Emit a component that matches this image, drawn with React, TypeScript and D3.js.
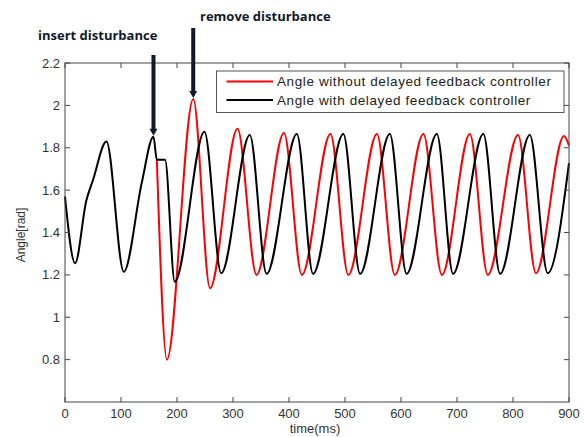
import React from "react";
import * as d3 from "d3";

// black: angle with delayed feedback controller [time(ms), angle(rad)]
const withCtrlT = [0, 18, 38, 50, 74, 105, 137, 158, 164, 178.6, 196, 249, 279, 330, 360, 414, 443, 497, 527, 580, 610, 664, 693, 747, 777, 830, 862, 900];
const withCtrlV = [1.57, 1.255, 1.55, 1.648, 1.83, 1.215, 1.634, 1.852, 1.743, 1.743, 1.168, 1.876, 1.208, 1.86, 1.205, 1.865, 1.205, 1.865, 1.205, 1.865, 1.205, 1.865, 1.205, 1.865, 1.205, 1.86, 1.208, 1.727];

// red: angle without delayed feedback controller (branches off at the disturbance)
const noCtrlT = [164, 182, 229, 259, 308, 342, 391, 423, 474, 506, 557, 589, 640, 673, 723, 755, 809, 841, 891, 900];
const noCtrlV = [1.743, 0.8, 2.03, 1.137, 1.89, 1.2, 1.87, 1.2, 1.865, 1.2, 1.865, 1.2, 1.865, 1.2, 1.865, 1.2, 1.86, 1.208, 1.855, 1.81];

const xTicks = [0, 100, 200, 300, 400, 500, 600, 700, 800, 900];
const yTicks = [0.8, 1, 1.2, 1.4, 1.6, 1.8, 2, 2.2];

const legendLabels = ["Angle without delayed feedback controller", "Angle with delayed feedback controller"];
const insertT = 158;
const removeT = 229;

const W = 584, H = 437;
const m = { left: 65, right: 15, top: 63, bottom: 35 };

export default function App() {
  const x = d3.scaleLinear().domain([0, 900]).range([m.left, W - m.right]);
  const y = d3.scaleLinear().domain([0.6, 2.2]).range([H - m.bottom, m.top]);

  const line = d3.line<[number, number]>()
    .x(d => x(d[0]))
    .y(d => y(d[1]))
    .curve(d3.curveMonotoneX);

  const black = withCtrlT.map((t, i) => [t, withCtrlV[i]] as [number, number]);
  const red = noCtrlT.map((t, i) => [t, noCtrlV[i]] as [number, number]);

  const axisColor = "#444";
  const font = "'Liberation Sans', Arial, sans-serif";
  const x0 = x(0), x1 = x(900), y0 = y(0.6), y1 = y(2.2);

  const arrow = (t: number, v: number, top: number) => {
    const ax = x(t);
    const tip = y(v) - 1;
    return (
      <g>
        <line x1={ax} x2={ax} y1={top} y2={tip - 6} stroke="#0f1a2b" strokeWidth={4} />
        <path d={`M${ax - 4},${tip - 7} L${ax + 4},${tip - 7} L${ax},${tip} Z`} fill="#0f1a2b" />
      </g>
    );
  };

  return (
    <svg width={W} height={H} style={{ position: "absolute", left: 0, top: 0, background: "#fff" }}>
      <rect x={0} y={0} width={W} height={H} fill="#fff" />
      <path d={line(red) || ""} fill="none" stroke="#ff0000" strokeWidth={2} />
      <path d={line(black) || ""} fill="none" stroke="#000" strokeWidth={2} />

      {/* axes box */}
      <rect x={x0} y={y1} width={x1 - x0} height={y0 - y1} fill="none" stroke={axisColor} strokeWidth={1} />
      {xTicks.map(t => (
        <g key={"x" + t}>
          <line x1={x(t)} x2={x(t)} y1={y0} y2={y0 - 5} stroke={axisColor} />
          <line x1={x(t)} x2={x(t)} y1={y1} y2={y1 + 5} stroke={axisColor} />
          <text x={x(t)} y={y0 + 16} textAnchor="middle" fontFamily={font} fontSize={13} fill="#333">{t}</text>
        </g>
      ))}
      {yTicks.map(t => (
        <g key={"y" + t}>
          <line x1={x0} x2={x0 + 5} y1={y(t)} y2={y(t)} stroke={axisColor} />
          <line x1={x1} x2={x1 - 5} y1={y(t)} y2={y(t)} stroke={axisColor} />
          <text x={x0 - 5} y={y(t) + 4.5} textAnchor="end" fontFamily={font} fontSize={13} fill="#333">{t}</text>
        </g>
      ))}

      <text x={315} y={433} textAnchor="middle" fontFamily={font} fontSize={13} fill="#333">time(ms)</text>
      <text transform={`translate(25,235) rotate(-90)`} textAnchor="middle" fontFamily={font} fontSize={12} fill="#333">Angle[rad]</text>

      {/* legend */}
      <rect x={216.5} y={71} width={347.5} height={41.5} fill="#fff" stroke="#555" strokeWidth={1} />
      {legendLabels.map((lab, i) => (
        <g key={lab}>
          <line x1={226.5} x2={273} y1={81.5 + i * 18.5} y2={81.5 + i * 18.5} stroke={i === 0 ? "#ff0000" : "#000"} strokeWidth={2} />
          <text x={277} y={86 + i * 18.5} fontFamily={font} fontSize={13.5} letterSpacing={0.6} fill="#222">{lab}</text>
        </g>
      ))}

      {/* annotations */}
      {arrow(insertT, withCtrlV[withCtrlT.indexOf(insertT)], 55)}
      {arrow(removeT, noCtrlV[noCtrlT.indexOf(removeT)], 28)}
      <text x={38} y={40} fontFamily="'Open Sans', sans-serif" fontWeight="bold" fontSize={13} fill="#111a2b">insert disturbance</text>
      <text x={200} y={21} fontFamily="'Open Sans', sans-serif" fontWeight="bold" fontSize={13} fill="#111a2b">remove disturbance</text>
    </svg>
  );
}
